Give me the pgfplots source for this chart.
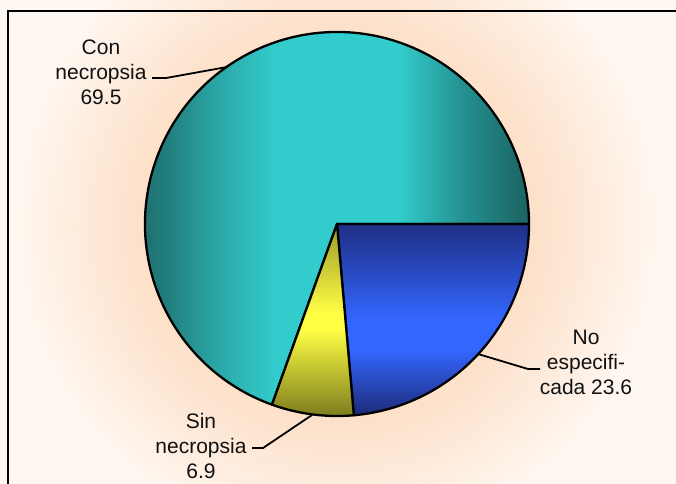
\documentclass[border=0pt]{standalone}
\usepackage{pgfplots}
\pgfplotsset{compat=1.18}
\usepackage{pgfplotstable}
\usepackage{fontspec}
\setmainfont{Liberation Sans}

\definecolor{tealdark}{HTML}{1C6262}
\definecolor{tealmida}{HTML}{22807F}
\definecolor{tealmid}{HTML}{2AA2A2}
\definecolor{tealmidb}{HTML}{249090}
\definecolor{cyanb}{HTML}{33CCCC}
\definecolor{navy}{HTML}{1D2B78}
\definecolor{navytop}{HTML}{1F2F85}
\definecolor{blueb}{HTML}{3366FF}
\definecolor{olive}{HTML}{7A7A1E}
\definecolor{olivetop}{HTML}{9A9A2C}
\definecolor{yellowb}{HTML}{FFFF44}
\definecolor{peach}{HTML}{FDE0C8}
\definecolor{peachmid}{HTML}{FEEBDC}
\definecolor{bgw}{HTML}{FFF8F2}
\definecolor{txt}{HTML}{111111}

% horizontal: 25bp = left edge, 75bp = right edge of the path
\pgfdeclarehorizontalshading{tealshade}{100bp}{color(0bp)=(tealdark); color(25bp)=(tealdark);
  color(31bp)=(tealmida); color(36bp)=(tealmid); color(44bp)=(cyanb); color(59bp)=(cyanb);
  color(67bp)=(tealmidb); color(75bp)=(tealdark); color(100bp)=(tealdark)}
% vertical: 25bp = bottom, 75bp = top
\pgfdeclareverticalshading{blueshade}{100bp}{color(0bp)=(navy); color(25bp)=(navy);
  color(42bp)=(blueb); color(50bp)=(blueb); color(75bp)=(navytop); color(100bp)=(navytop)}
\pgfdeclareverticalshading{yellowshade}{100bp}{color(0bp)=(olive); color(25bp)=(olive);
  color(48bp)=(yellowb); color(52bp)=(yellowb); color(75bp)=(olivetop); color(100bp)=(olivetop)}
\pgfdeclareradialshading{glow}{\pgfpoint{0bp}{0bp}}{color(0bp)=(peach); color(14bp)=(peach);
  color(19bp)=(peachmid); color(24bp)=(bgw); color(50bp)=(bgw)}

% share of deaths (%)
\pgfplotstableread{
label  value
NoEsp  23.6
Sin    6.9
Con    69.5
}\piedata

\pgfplotstablegetelem{0}{value}\of\piedata \let\vNo\pgfplotsretval
\pgfplotstablegetelem{1}{value}\of\piedata \let\vSin\pgfplotsretval
\pgfplotstablegetelem{2}{value}\of\piedata \let\vCon\pgfplotsretval

% angles, clockwise from 3 o'clock
\pgfmathsetmacro\aA{0}
\pgfmathsetmacro\aB{\aA-3.6*\vNo}
\pgfmathsetmacro\aC{\aB-3.6*\vSin}
\pgfmathsetmacro\aD{\aC-3.6*\vCon}

\def\cx{337}
\def\cy{224}
\def\rad{192pt}

\begin{document}
\begin{tikzpicture}
\begin{axis}[
    width=676pt, height=483pt, scale only axis,
    xmin=0, xmax=676, ymin=0, ymax=483,
    y dir=reverse,
    hide axis,
]
  % background
  \fill[bgw] (axis cs:0,0) rectangle (axis cs:676,483);
  \shade[shading=glow] (axis cs:-3,-116) rectangle (axis cs:677,564);
  \draw[line width=2.6pt, line cap=rect] (axis cs:700,11) -- (axis cs:8,11) -- (axis cs:8,520);

  % slices
  \shadedraw[shading=tealshade, draw=black, line width=2.3pt, line join=round]
    (axis cs:\cx,\cy) -- ++(\aC:\rad) arc[start angle=\aC, end angle=\aD, radius=\rad] -- cycle;
  \shadedraw[shading=blueshade, draw=black, line width=2.3pt, line join=round]
    (axis cs:\cx,\cy) -- ++(\aA:\rad) arc[start angle=\aA, end angle=\aB, radius=\rad] -- cycle;
  \shadedraw[shading=yellowshade, draw=black, line width=2.3pt, line join=round]
    (axis cs:\cx,\cy) -- ++(\aB:\rad) arc[start angle=\aB, end angle=\aC, radius=\rad] -- cycle;

  % leader lines
  \draw[line width=1.8pt] (axis cs:152,78) -- (axis cs:166,78) -- (axis cs:227,67);
  \draw[line width=1.8pt] (axis cs:478,354) -- (axis cs:528,369) -- (axis cs:540,369);
  \draw[line width=1.8pt] (axis cs:312,415) -- (axis cs:263,448) -- (axis cs:252,448);

  % labels
  \tikzset{lab/.style={align=center, text=txt, inner sep=0pt,
      font=\fontsize{21}{25}\selectfont}}
  \node[lab] at (axis cs:101,72) {Con\\necropsia\\69.5};
  \node[lab] at (axis cs:586,362) {No\\especifi-\\cada 23.6};
  \node[lab] at (axis cs:201,446) {Sin\\necropsia\\6.9};
\end{axis}
\pgfresetboundingbox
\useasboundingbox (current axis.south west) rectangle (current axis.north east);
\end{tikzpicture}
\end{document}
